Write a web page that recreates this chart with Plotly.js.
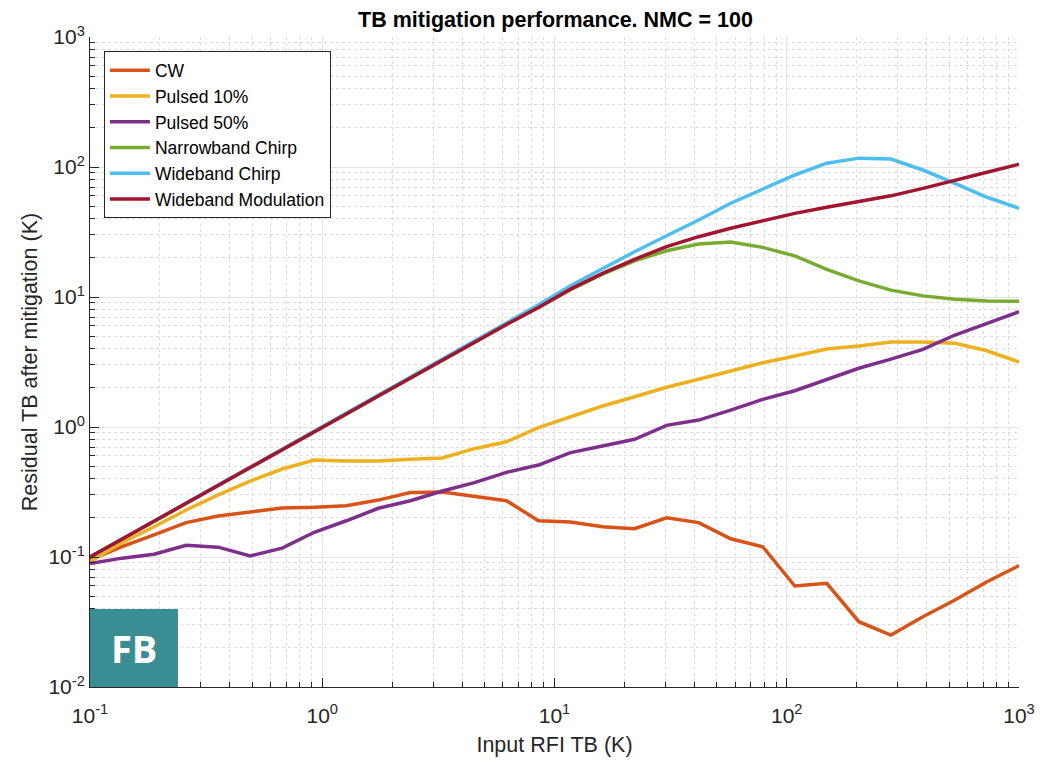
<!DOCTYPE html>
<html>
<head>
<meta charset="utf-8">
<script src="https://cdn.plot.ly/plotly-3.0.1.min.js"></script>
<style>html,body{margin:0;padding:0;background:#fff;}#chart{width:1055px;height:760px;}</style>
</head>
<body>
<div id="chart"></div>
<script>
// Input RFI TB (K)
const inputTB = [0.1, 0.1374, 0.1887, 0.2593, 0.3562, 0.4894, 0.6723, 0.9237, 1.269, 1.743,
  2.395, 3.290, 4.520, 6.210, 8.532, 11.72, 16.10, 22.12, 30.39, 41.75,
  57.36, 78.80, 108.3, 148.7, 204.3, 280.7, 385.7, 529.8, 727.9, 1000];

const cw = [0.095, 0.12, 0.148, 0.184, 0.207, 0.223, 0.238, 0.241, 0.248, 0.274,
  0.313, 0.316, 0.291, 0.271, 0.19, 0.186, 0.171, 0.165, 0.2, 0.184,
  0.138, 0.12, 0.0598, 0.0627, 0.0318, 0.0251, 0.0347, 0.0467, 0.0646, 0.0858];

const pulsed10 = [0.092, 0.129, 0.171, 0.23, 0.3, 0.384, 0.475, 0.557, 0.548, 0.548,
  0.564, 0.578, 0.681, 0.77, 0.99, 1.19, 1.45, 1.71, 2.02, 2.33,
  2.71, 3.12, 3.52, 3.98, 4.2, 4.5, 4.5, 4.4, 3.86, 3.16];

const pulsed50 = [0.089, 0.098, 0.105, 0.123, 0.119, 0.102, 0.117, 0.155, 0.19, 0.237,
  0.271, 0.322, 0.373, 0.448, 0.51, 0.635, 0.714, 0.804, 1.03, 1.13,
  1.35, 1.63, 1.9, 2.33, 2.83, 3.33, 3.96, 5.1, 6.28, 7.7];

const narrowChirp = [0.1, 0.137, 0.188, 0.258, 0.355, 0.488, 0.67, 0.92, 1.26, 1.73,
  2.38, 3.27, 4.49, 6.15, 8.3, 11.4, 15.0, 19.0, 22.7, 25.6,
  26.5, 24.1, 20.7, 16.3, 13.3, 11.3, 10.2, 9.6, 9.3, 9.27];

const wideChirp = [0.1, 0.138, 0.19, 0.26, 0.357, 0.49, 0.675, 0.93, 1.28, 1.76,
  2.42, 3.33, 4.6, 6.3, 8.7, 12.2, 16.6, 22.3, 29.6, 39.1,
  52.6, 67.7, 86.8, 107, 117, 115, 94.8, 74.9, 58.5, 48.1];

const wideMod = [0.1, 0.137, 0.188, 0.258, 0.355, 0.488, 0.67, 0.92, 1.26, 1.73,
  2.38, 3.27, 4.49, 6.15, 8.3, 11.5, 15.2, 19.5, 24.4, 29.1,
  33.8, 38.6, 44, 49, 54, 60, 68.5, 78.5, 91, 105];

const seriesNames = ["CW", "Pulsed 10%", "Pulsed 50%", "Narrowband Chirp", "Wideband Chirp", "Wideband Modulation"];
const seriesData = [cw, pulsed10, pulsed50, narrowChirp, wideChirp, wideMod];
const seriesColors = ["#D95319", "#EDB120", "#7E2F8E", "#77AC30", "#4DBEEE", "#A2142F"];

const xTickVals = [0.1, 1, 10, 100, 1000];
const xTickText = ["10<sup>-1</sup>", "10<sup>0</sup>", "10<sup>1</sup>", "10<sup>2</sup>", "10<sup>3</sup>"];
const yTickVals = [0.01, 0.1, 1, 10, 100, 1000];
const yTickText = ["10<sup>-2</sup>", "10<sup>-1</sup>", "10<sup>0</sup>", "10<sup>1</sup>", "10<sup>2</sup>", "10<sup>3</sup>"];

const traces = seriesNames.map((n, k) => ({
  type: "scatter", mode: "lines", name: n, x: inputTB, y: seriesData[k],
  line: {color: seriesColors[k], width: 3.5}
}));

const font = "Liberation Sans, Arial, Helvetica, sans-serif";
const axisCommon = {
  type: "log", showline: true, linecolor: "#262626", linewidth: 1, mirror: false,
  ticks: "inside", ticklen: 9, tickcolor: "#262626", tickwidth: 1,
  showgrid: true, gridcolor: "#e3e3e3", gridwidth: 1, zeroline: false,
  tickfont: {family: font, size: 21, color: "#262626"},
  minor: {ticks: "inside", ticklen: 5, tickcolor: "#262626", showgrid: true,
          gridcolor: "#dcdcdc", griddash: "dot", gridwidth: 1, dtick: "D1"}
};

const layout = {
  width: 1055, height: 760,
  margin: {l: 90, r: 36, t: 37, b: 73},
  paper_bgcolor: "#ffffff", plot_bgcolor: "#ffffff",
  title: {text: "<b>TB mitigation performance. NMC = 100</b>", font: {family: font, size: 21.5, color: "#000"},
          x: 0.5265, xanchor: "center", y: 0.975, yanchor: "middle"},
  xaxis: Object.assign({}, axisCommon, {range: [-1, 3], tickvals: xTickVals, ticktext: xTickText,
    ticklabelstandoff: 10,
    title: {text: "Input RFI TB (K)", font: {family: font, size: 21.5, color: "#262626"}, standoff: 10}}),
  yaxis: Object.assign({}, axisCommon, {range: [-2, 3], tickvals: yTickVals, ticktext: yTickText,
    title: {text: "Residual TB after mitigation (K)", font: {family: font, size: 21.5, color: "#262626"}, standoff: 4}}),
  showlegend: true,
  legend: {x: 0.015, y: 0.978, xanchor: "left", yanchor: "top", bgcolor: "#ffffff",
           bordercolor: "#262626", borderwidth: 1, font: {family: font, size: 17.5, color: "#000"},
           tracegroupgap: 0, itemwidth: 40},
  shapes: [{type: "rect", xref: "paper", yref: "paper", x0: 0, x1: 0.0947, y0: 0, y1: 0.12,
            fillcolor: "#3b8d94", line: {width: 0}, layer: "above"}],
  annotations: [{xref: "paper", yref: "paper", x: 0.0474, y: 0.06, text: "<b>FB</b>", showarrow: false,
                 font: {family: "Open Sans, sans-serif", size: 38, color: "#ffffff"}, xanchor: "center", yanchor: "middle"}]
};

Plotly.newPlot("chart", traces, layout, {displayModeBar: false, staticPlot: true});
</script>
</body>
</html>
